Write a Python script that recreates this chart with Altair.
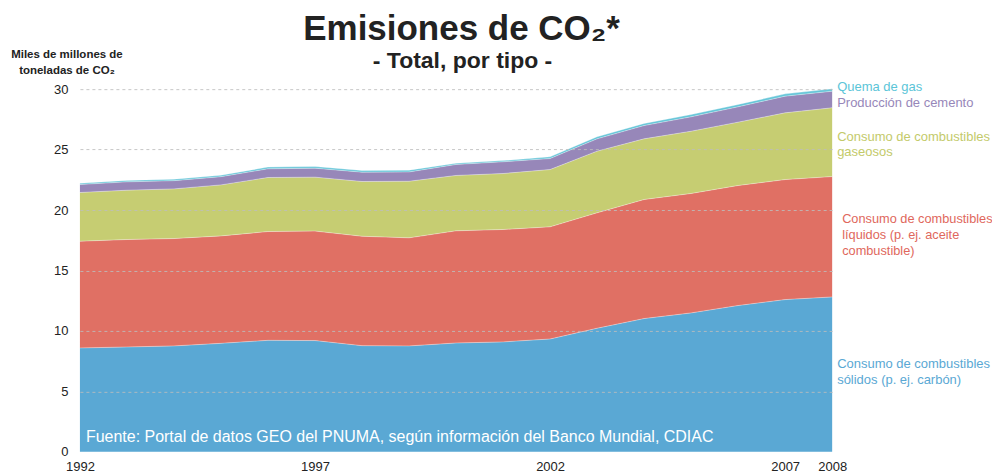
import altair as alt
import pandas as pd

# ---- data (Gt CO2) ----
anios = list(range(1992, 2009))
series = [
    "Consumo de combustibles sólidos",
    "Consumo de combustibles líquidos",
    "Consumo de combustibles gaseosos",
    "Producción de cemento",
    "Quema de gas",
]
solidos = [8.59, 8.67, 8.76, 8.97, 9.22, 9.20, 8.78, 8.76, 9.00, 9.09, 9.33, 10.22, 11.02, 11.49, 12.10, 12.59, 12.81]
liquidos = [8.83, 8.89, 8.88, 8.89, 9.00, 9.06, 9.05, 8.94, 9.28, 9.30, 9.28, 9.55, 9.85, 9.88, 9.93, 9.93, 9.96]
gaseosos = [4.03, 4.08, 4.11, 4.22, 4.47, 4.46, 4.53, 4.68, 4.58, 4.63, 4.74, 5.10, 5.02, 5.15, 5.24, 5.52, 5.69]
cemento = [0.66, 0.69, 0.68, 0.68, 0.72, 0.74, 0.77, 0.77, 0.91, 0.97, 0.91, 1.02, 1.10, 1.19, 1.27, 1.38, 1.37]
quema = [0.10, 0.12, 0.12, 0.12, 0.14, 0.14, 0.14, 0.15, 0.10, 0.10, 0.14, 0.17, 0.17, 0.19, 0.19, 0.19, 0.20]
colores = ["#5aa8d4", "#e07064", "#c6cd72", "#9787b9", "#65c5d8"]
ticks_x = [1992, 1997, 2002, 2007, 2008]
ticks_y = [0, 5, 10, 15, 20, 25, 30]

FONT = "Liberation Sans, Arial, Helvetica, sans-serif"

# stacked table built from the arrays
rows = []
valores = [solidos, liquidos, gaseosos, cemento, quema]
for i, a in enumerate(anios):
    base = 0.0
    for s, v in zip(series, valores):
        rows.append({"anio": a, "serie": s, "inferior": base, "superior": base + v[i]})
        base += v[i]
df = pd.DataFrame(rows)

x_enc = alt.X("anio:Q",
              scale=alt.Scale(domain=[1992, 2008], nice=False, zero=False),
              axis=alt.Axis(values=ticks_x, format="d", title=None, grid=False,
                            domain=False, ticks=False, labelPadding=9,
                            labelFlush=False, labelOverlap=False,
                            labelFontSize=13, labelColor="#222", labelFont=FONT))
y_enc = alt.Y("superior:Q", stack=None,
              scale=alt.Scale(domain=[0, 30], nice=False),
              axis=alt.Axis(values=ticks_y, title=None, domain=False, ticks=False,
                            labelPadding=12, labelFontSize=13, labelColor="#222",
                            labelFont=FONT, grid=True, gridDash=[3, 3],
                            gridColor="#bdbdbd",
                            gridOpacity=alt.condition("datum.value == 0", alt.value(0), alt.value(0.85)),
                            zindex=1))

areas = alt.Chart(df).mark_area(interpolate="linear").encode(
    x=x_enc,
    y=y_enc,
    y2="inferior:Q",
    color=alt.Color("serie:N", scale=alt.Scale(domain=series, range=colores), legend=None),
)

# thin light edges along the top of each layer
bordes = alt.Chart(df).mark_line(strokeWidth=1, color="white", opacity=0.35).encode(
    x=x_enc,
    y=y_enc,
    detail="serie:N",
)


def etiqueta(texto, x, y, color, size=13, weight="normal", align="left", baseline="middle"):
    return alt.Chart(pd.DataFrame({"t": [texto]})).mark_text(
        align=align, baseline=baseline, fontSize=size, fontWeight=weight,
        font=FONT, color=color,
    ).encode(text="t:N", x=alt.value(x), y=alt.value(y))


capas = [
    areas,
    bordes,
    etiqueta("Emisiones de CO₂*", 382, -49, "#222222", size=35, weight="bold", align="center", baseline="alphabetic"),
    etiqueta("- Total, por tipo -", 383, -21, "#222222", size=23, weight="bold", align="center", baseline="alphabetic"),
    etiqueta("Miles de millones de", -13, -31, "#222222", size=11.5, weight="bold", align="center", baseline="alphabetic"),
    etiqueta("toneladas de CO₂", -13, -15, "#222222", size=11.5, weight="bold", align="center", baseline="alphabetic"),
    etiqueta("Quema de gas", 758, -2, "#5bc5d8"),
    etiqueta("Producción de cemento", 758, 14, "#9787b9"),
    etiqueta("Consumo de combustibles", 758, 48, "#c3ca6a"),
    etiqueta("gaseosos", 758, 63, "#c3ca6a"),
    etiqueta("Consumo de combustibles", 763, 130, "#e0675c", size=12.8),
    etiqueta("líquidos (p. ej. aceite", 763, 146, "#e0675c", size=12.8),
    etiqueta("combustible)", 763, 162, "#e0675c", size=12.8),
    etiqueta("Consumo de combustibles", 758, 275, "#5aa8d4"),
    etiqueta("sólidos (p. ej. carbón)", 758, 291, "#5aa8d4"),
    etiqueta("Fuente: Portal de datos GEO del PNUMA, según información del Banco Mundial, CDIAC",
             6, 348, "#ffffff", size=16),
]

chart = alt.layer(*capas).properties(
    width=753, height=363,
    autosize=alt.AutoSizeParams(type="none"),
    padding={"left": 72, "top": 81, "right": 160, "bottom": 22},
    background="white",
).configure_view(strokeWidth=0)

chart.save("out.html", embed_options={"renderer": "svg", "actions": False})
